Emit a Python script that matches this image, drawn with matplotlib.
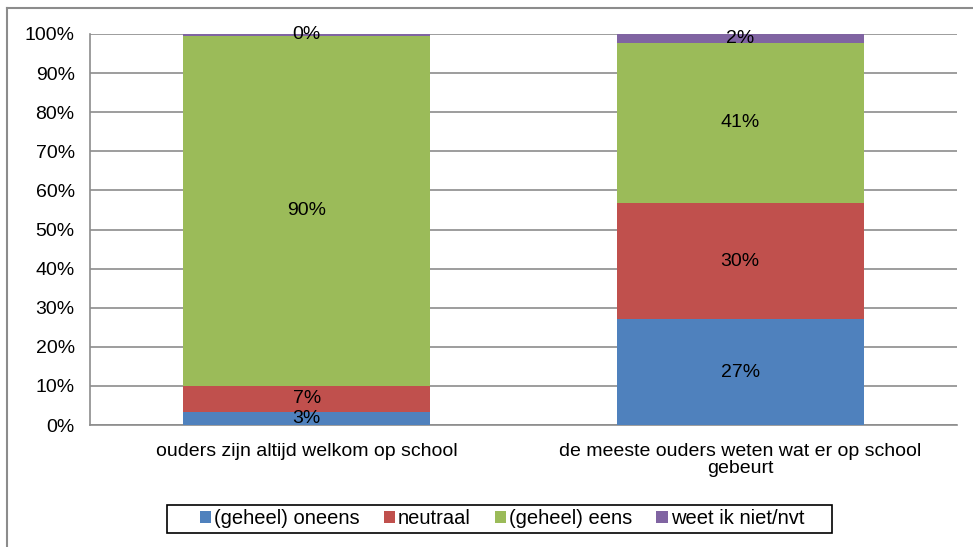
import matplotlib
matplotlib.use("Agg")
import matplotlib.pyplot as plt
from matplotlib.lines import Line2D
from matplotlib.patches import Rectangle

plt.rcParams['font.family'] = ['Liberation Sans', 'DejaVu Sans']

categories = ["ouders zijn altijd welkom op school",
              "de meeste ouders weten wat er op school\ngebeurt"]
series_names = ["(geheel) oneens", "neutraal", "(geheel) eens", "weet ik niet/nvt"]
oneens = [3.4, 27.1]
neutraal = [6.6, 29.6]
eens = [89.6, 41.1]
weetniet = [0.4, 2.2]
colors = ["#4F81BD", "#C0504D", "#9BBB59", "#8064A2"]
yticks = [0, 10, 20, 30, 40, 50, 60, 70, 80, 90, 100]

W, H = 973, 547
fig = plt.figure(figsize=(W/100, H/100), dpi=100)
ax = fig.add_axes([90/W, 1-425/H, (957-90)/W, (425-34)/H])

x = list(range(len(categories)))
bottoms = [0.0]*len(categories)
fs = 14
for name, vals, c in zip(series_names, [oneens, neutraal, eens, weetniet], colors):
    ax.bar(x, vals, width=0.57, bottom=bottoms, color=c, label=name, zorder=3)
    for xi, v, b in zip(x, vals, bottoms):
        ax.text(xi, b + v/2, f"{round(v):d}%", ha='center', va='center', fontsize=fs, zorder=4)
    bottoms = [b + v for b, v in zip(bottoms, vals)]

ax.set_xlim(-0.5, 1.5)
ax.set_ylim(0, 100)
ax.set_yticks(yticks)
ax.set_yticklabels([f"{t}%" for t in yticks], fontsize=fs)
ax.set_xticks(x)
ax.set_xticklabels(categories, fontsize=fs, linespacing=1.0)
ax.tick_params(axis='y', length=0, pad=11)
ax.tick_params(axis='x', length=0, pad=13)
ax.yaxis.grid(True, color='#8C8C8C', linewidth=1.2, zorder=0)
ax.set_axisbelow(True)
for s in ['top', 'right']:
    ax.spines[s].set_visible(False)
for s in ['left', 'bottom']:
    ax.spines[s].set_color('#8C8C8C')
    ax.spines[s].set_linewidth(1.2)

leg = fig.legend(loc='center', bbox_to_anchor=(502/W, 1-519/H), ncol=4, fontsize=14.5,
                 frameon=False, handlelength=0.55,
                 handleheight=0.55, handletextpad=0.15, columnspacing=1.2, borderpad=0.3,
                 borderaxespad=0)

# legend box
fig.add_artist(Rectangle((167/W, 1-533/H), (832-167)/W, 28/H, transform=fig.transFigure,
                         fill=False, edgecolor='black', linewidth=1.2))

# outer frame (cropped on right and bottom)
fig.add_artist(Line2D([7/W, 7/W], [0, 1-8/H], transform=fig.transFigure, color='#8C8C8C', linewidth=1.5))
fig.add_artist(Line2D([7/W, 1], [1-8/H, 1-8/H], transform=fig.transFigure, color='#8C8C8C', linewidth=1.5))

fig.savefig("out.png", dpi=100)
